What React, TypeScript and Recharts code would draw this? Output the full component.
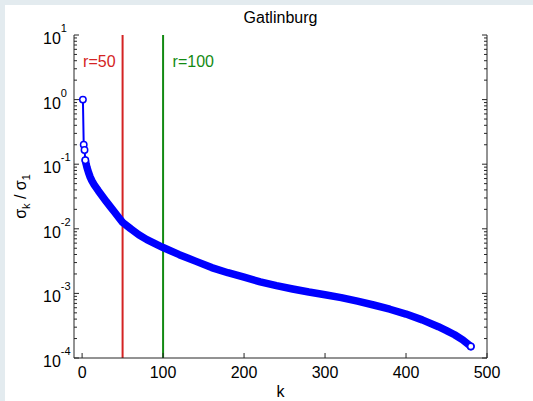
import React from "react";
import { LineChart, Line, XAxis, YAxis, ReferenceLine } from "recharts";

// singular value index k and normalised value sigma_k / sigma_1
const kValues = [
  1, 2, 3, 4, 5, 6, 8, 10, 12, 15, 20, 25, 30, 35, 40, 45, 50, 60, 70, 80, 90, 100,
  120, 140, 160, 180, 200, 220, 240, 260, 280, 300, 320, 340, 360, 380, 400, 420,
  440, 450, 460, 470, 475, 480,
];
const sigmaRatio = [
  1, 0.2, 0.166, 0.115, 0.1, 0.0891, 0.0741, 0.0631, 0.0556, 0.0479, 0.0389, 0.032,
  0.0263, 0.0219, 0.0182, 0.0151, 0.0126, 0.01, 0.0081, 0.0068, 0.00589, 0.00513,
  0.00398, 0.00316, 0.00251, 0.00209, 0.00178, 0.00151, 0.00132, 0.00117, 0.00105,
  0.000955, 0.000861, 0.000759, 0.000661, 0.000569, 0.000479, 0.000389, 0.000305,
  0.000266, 0.000229, 0.000191, 0.00017, 0.000151,
];
const headPoints = 4; // first few singular values drawn as separate markers

const cutoffRanks = [50, 100];
const cutoffLabels = ["r=50", "r=100"];

const xTicks = [0, 100, 200, 300, 400, 500];
const yMajorTicks = [1e-4, 1e-3, 1e-2, 1e-1, 1, 10];
const minorSteps = [2, 3, 4, 5, 6, 7, 8, 9];
const yTicks = [
  ...yMajorTicks,
  ...yMajorTicks.slice(0, -1).flatMap((d) => minorSteps.map((m) => m * d)),
].sort((a, b) => a - b);

const rows = kValues.map((k, i) => ({
  k,
  head: i < headPoints ? sigmaRatio[i] : undefined,
  body: i >= headPoints - 1 ? sigmaRatio[i] : undefined,
}));

const FONT = "'Liberation Sans', Arial, Helvetica, sans-serif";
const AXIS = "#262626";
const BLUE = "#0000ff";
const cutoffColors = ["#d42323", "#138a13"];

const isMajor = (v: number) => Math.abs(Math.log10(v) - Math.round(Math.log10(v))) < 1e-6;

const LeftTick = (props: any) => {
  const { x, y, payload } = props;
  const v = payload.value;
  const major = isMajor(v);
  return (
    <g>
      <line x1={x} x2={x + (major ? 5 : 3)} y1={y} y2={y} stroke={AXIS} />
      {major && (
        <text x={x - 31} y={y + 9} fontFamily={FONT} fontSize={16} fill="#000">
          10
          <tspan dy={-12} fontSize={11}>
            {Math.round(Math.log10(v))}
          </tspan>
        </text>
      )}
    </g>
  );
};

const RightTick = (props: any) => {
  const { x, y, payload } = props;
  const major = isMajor(payload.value);
  return <line x1={x} x2={x - (major ? 5 : 3)} y1={y} y2={y} stroke={AXIS} />;
};

const BottomTick = (props: any) => {
  const { x, y, payload } = props;
  return (
    <g>
      <line x1={x} x2={x} y1={y} y2={y - 5} stroke={AXIS} />
      <text x={x} y={y + 20} textAnchor="middle" fontFamily={FONT} fontSize={16} fill="#000">
        {payload.value}
      </text>
    </g>
  );
};

const TopTick = (props: any) => {
  const { x, y } = props;
  return <line x1={x} x2={x} y1={y} y2={y + 5} stroke={AXIS} />;
};

const headDot = (p: any) => {
  if (p.value == null || p.cy == null) return <g key={`h${p.index}`} />;
  return (
    <circle key={`h${p.index}`} cx={p.cx} cy={p.cy} r={3.2} fill="#fff" stroke={BLUE} strokeWidth={1.5} />
  );
};

const bodyDot = (p: any) => {
  if (p.index !== kValues.length - 1 || p.cy == null) return <g key={`b${p.index}`} />;
  return (
    <circle key={`b${p.index}`} cx={p.cx} cy={p.cy} r={3.2} fill="#fff" stroke={BLUE} strokeWidth={1.6} />
  );
};

const cutoffLabel = (i: number) => (props: any) => {
  const vb = props.viewBox || {};
  const left = i === 0;
  return (
    <text
      x={left ? vb.x - 7 : vb.x + 9.5}
      y={vb.y + 32}
      textAnchor={left ? "end" : "start"}
      fontFamily={FONT}
      fontSize={16}
      fill={cutoffColors[i]}
    >
      {cutoffLabels[i]}
    </text>
  );
};

export default function App() {
  return (
    <div style={{ position: "fixed", left: 0, top: 0, width: 533, height: 401, background: "#e3ebef" }}>
      <div style={{ position: "absolute", left: 5, top: 5, width: 528, height: 396, background: "#fff" }}>
        <LineChart width={528} height={396} data={rows} margin={{ top: 30, right: 0, bottom: 0, left: 0 }}>
          <XAxis
            dataKey="k"
            type="number"
            domain={[-10, 500]}
            allowDataOverflow
            ticks={xTicks}
            interval={0}
            height={43}
            tickSize={0}
            tickMargin={0}
            tickLine={false}
            axisLine={{ stroke: AXIS }}
            tick={BottomTick}
          />
          <XAxis
            xAxisId="top"
            orientation="top"
            type="number"
            domain={[-10, 500]}
            allowDataOverflow
            ticks={xTicks}
            interval={0}
            height={0}
            tickSize={0}
            tickMargin={0}
            tickLine={false}
            axisLine={{ stroke: AXIS }}
            tick={TopTick}
          />
          <YAxis
            type="number"
            scale="log"
            domain={[1e-4, 10]}
            allowDataOverflow
            ticks={yTicks}
            interval={0}
            width={69}
            tickSize={0}
            tickMargin={0}
            tickLine={false}
            axisLine={{ stroke: AXIS }}
            tick={LeftTick}
          />
          <YAxis
            yAxisId="right"
            orientation="right"
            type="number"
            scale="log"
            domain={[1e-4, 10]}
            allowDataOverflow
            ticks={yTicks}
            interval={0}
            width={46}
            tickSize={0}
            tickMargin={0}
            tickLine={false}
            axisLine={{ stroke: AXIS }}
            tick={RightTick}
          />
          {cutoffRanks.map((r, i) => (
            <ReferenceLine key={r} x={r} stroke={cutoffColors[i]} strokeWidth={2} label={cutoffLabel(i)} />
          ))}
          <Line
            dataKey="body"
            stroke={BLUE}
            strokeWidth={7.5}
            strokeLinecap="round"
            strokeLinejoin="round"
            dot={bodyDot}
            activeDot={false}
            isAnimationActive={false}
          />
          <Line
            dataKey="head"
            stroke={BLUE}
            strokeWidth={2}
            dot={headDot}
            activeDot={false}
            isAnimationActive={false}
          />
        </LineChart>
        <svg
          width={528}
          height={396}
          style={{ position: "absolute", left: 0, top: 0, pointerEvents: "none" }}
          fontFamily={FONT}
        >
          <text x={275.5} y={18} textAnchor="middle" fontSize={16} fill="#000">
            Gatlinburg
          </text>
          <text x={275.5} y={392} textAnchor="middle" fontSize={16} fill="#000">
            k
          </text>
          <text transform="translate(21,191.5) rotate(-90)" textAnchor="middle" fontSize={16} fill="#000">
            σ<tspan fontSize={11} dy={4}>k</tspan>
            <tspan dy={-4}> / σ</tspan>
            <tspan fontSize={11} dy={4}>1</tspan>
          </text>
        </svg>
      </div>
    </div>
  );
}
